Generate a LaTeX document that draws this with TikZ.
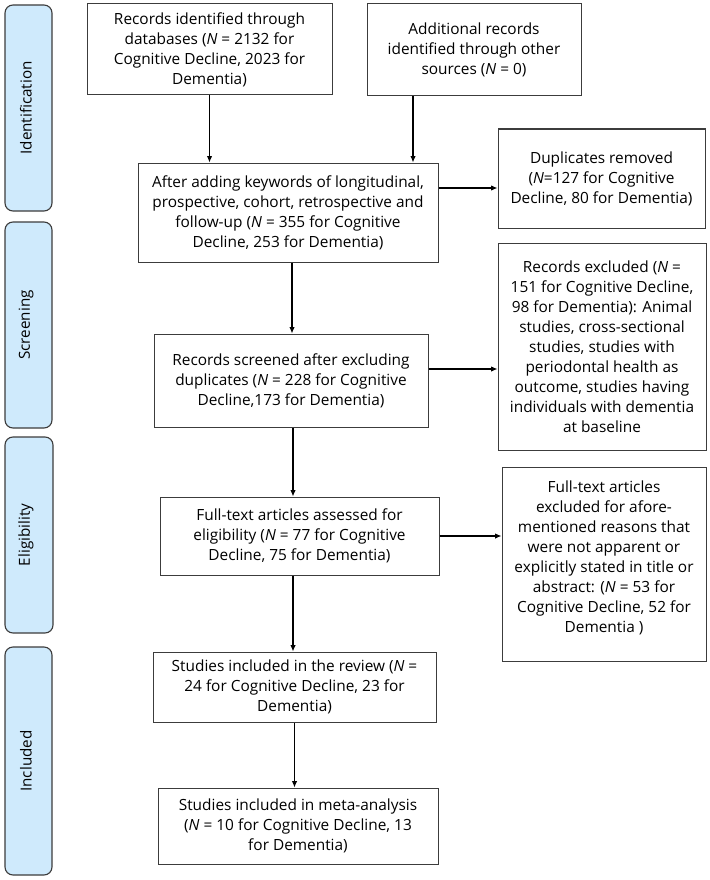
\documentclass[tikz,border=0pt]{standalone}
\usepackage{fontspec}
\setmainfont{Open Sans}
\usetikzlibrary{arrows.meta}
\definecolor{barfill}{RGB}{207,234,252}
\definecolor{edge}{RGB}{60,60,60}
\begin{document}
\begin{tikzpicture}[x=1pt,y=-1pt,
  box/.style={draw=edge,line width=1pt,inner sep=0pt,align=center,font=\fontsize{15.4}{20}\selectfont},
  bar/.style={draw=edge,fill=barfill,line width=1.1pt,rounded corners=8pt,inner sep=0pt},
  barlabel/.style={rotate=90,font=\fontsize{15.2}{20}\selectfont},
  arr/.style={line width=1.1pt,-{Latex[length=6.5pt,width=5.5pt]}}]
\useasboundingbox (0,0) rectangle (709,880);
% side bars
\node[bar,minimum width=47pt,minimum height=206pt] (s1) at (28.5,108) {};
\node[barlabel] (l1) at (26,108) {Identification};
\node[bar,minimum width=47pt,minimum height=206pt] (s2) at (28.5,325) {};
\node[barlabel] (l2) at (26,325) {Screening};
\node[bar,minimum width=48pt,minimum height=196pt] (s3) at (29,535) {};
\node[barlabel] (l3) at (26,535) {Eligibility};
\node[bar,minimum width=47pt,minimum height=228pt] (s4) at (28.5,761) {};
\node[barlabel] (l4) at (26,761) {Included};
% boxes
\node[box,minimum width=245pt,minimum height=91pt] (b1) at (209.5,49.5)
  {Records identified through\\databases (\textit{N} = 2132 for\\Cognitive Decline, 2023 for\\Dementia)};
\node[box,minimum width=214pt,minimum height=92pt] (b2) at (474,50)
  {Additional records\\identified through other\\sources (\textit{N} = 0)};
\node[box,minimum width=300pt,minimum height=99pt] (b3) at (288,212.5)
  {After adding keywords of longitudinal,\\prospective, cohort, retrospective and\\follow-up (\textit{N} = 355 for Cognitive\\Decline, 253 for Dementia)};
\node[box,minimum width=207pt,minimum height=99pt] (b4) at (601.5,178.5)
  {Duplicates removed\\(\textit{N}=127 for Cognitive\\Decline, 80 for Dementia)};
\node[box,minimum width=274pt,minimum height=93pt] (b5) at (291,380.5)
  {Records screened after excluding\\duplicates (\textit{N} = 228 for Cognitive\\Decline,173 for Dementia)};
\node[box,minimum width=208pt,minimum height=207pt] (b6) at (602,346.5)
  {Records excluded (\textit{N} =\\151 for Cognitive Decline,\\98 for Dementia): Animal\\studies, cross-sectional\\studies, studies with\\periodontal health as\\outcome, studies having\\individuals with dementia\\at baseline};
\node[box,minimum width=204pt,minimum height=194pt,text depth=14pt] (b8) at (604,564)
  {Full-text articles\\excluded for afore-\\mentioned reasons that\\were not apparent or\\explicitly stated in title or\\abstract: (\textit{N} = 53 for\\Cognitive Decline, 52 for\\Dementia )};
\node[box,minimum width=279pt,minimum height=78pt] (b7) at (299.5,536)
  {Full-text articles assessed for\\eligibility (\textit{N} = 77 for Cognitive\\Decline, 75 for Dementia)};
\node[box,minimum width=283pt,minimum height=70pt] (b9) at (294.5,687)
  {Studies included in the review (\textit{N} =\\24 for Cognitive Decline, 23 for\\Dementia)};
\node[box,minimum width=280pt,minimum height=76pt] (b10) at (298,826)
  {Studies included in meta-analysis\\(\textit{N} = 10 for Cognitive Decline, 13\\for Dementia)};
% connectors
\draw[arr] (b1.south) -- (b1.south |- b3.north);
\draw[arr] ([xshift=-61pt]b2.south) -- ([xshift=-61pt]b2.south |- b3.north);
\draw[arr] ([yshift=24.5pt]b3.east) -- ([yshift=24.5pt]b3.east -| b4.west);
\draw[arr] ([xshift=4pt]b3.south) -- ([xshift=4pt]b3.south |- b5.north);
\draw[arr] ([yshift=11.5pt]b5.east) -- ([yshift=11.5pt]b5.east -| b6.west);
\draw[arr] ([xshift=2pt]b5.south) -- ([xshift=2pt]b5.south |- b7.north);
\draw[arr] (b7.east) -- (b7.east -| b8.west);
\draw[arr] ([xshift=-6.5pt]b7.south) -- ([xshift=-6.5pt]b7.south |- b9.north);
\draw[arr] (b9.south) -- (b9.south |- b10.north);
\end{tikzpicture}
\end{document}
